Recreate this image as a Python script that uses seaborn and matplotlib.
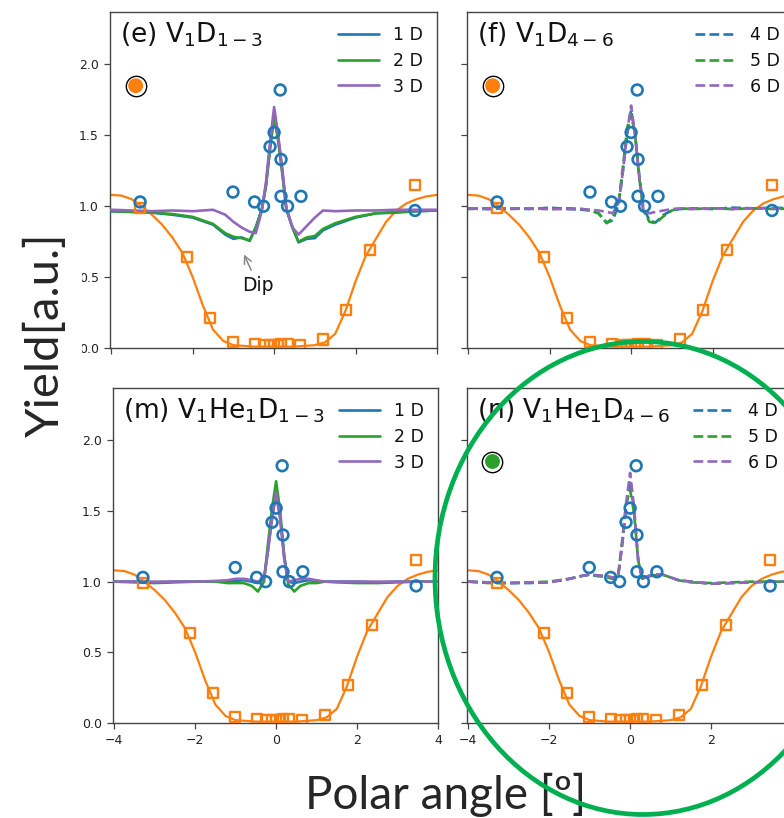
import numpy as np
import pandas as pd
import seaborn as sns
import matplotlib
matplotlib.use("Agg")
import matplotlib.pyplot as plt
from matplotlib.patches import Ellipse, Rectangle

# ---------------- data ----------------
exp_circ_x = [-3.29, -1.01, -0.48, -0.26, -0.10, 0.00, 0.15, 0.17, 0.17, 0.33, 0.66, 3.46]
exp_circ_y = [1.03, 1.10, 1.03, 1.00, 1.42, 1.52, 1.82, 1.33, 1.07, 1.00, 1.07, 0.97]

exp_sq_x = [-3.29, -2.13, -1.57, -1.01, -0.48, -0.26, -0.10, 0.00, 0.10, 0.17, 0.33, 0.64, 1.20, 1.77, 2.36, 3.46]
exp_sq_y = [0.99, 0.64, 0.21, 0.04, 0.025, 0.02, 0.02, 0.02, 0.02, 0.025, 0.025, 0.02, 0.06, 0.27, 0.69, 1.15]

fit_x = [-4.0, -3.75, -3.5, -3.25, -3.0, -2.75, -2.5, -2.25, -2.0, -1.75, -1.5, -1.25, -1.0, -0.5,
         0.0, 0.5, 1.0, 1.25, 1.5, 1.75, 2.0, 2.25, 2.5, 2.75, 3.0, 3.25, 3.5, 3.75, 4.0]
fit_y = [1.08, 1.075, 1.05, 1.0, 0.94, 0.87, 0.78, 0.67, 0.50, 0.30, 0.13, 0.05, 0.02, 0.01,
         0.01, 0.01, 0.02, 0.04, 0.10, 0.26, 0.47, 0.65, 0.77, 0.89, 0.97, 1.02, 1.05, 1.07, 1.08]

sim_x = [-4.0, -3.5, -3.0, -2.5, -2.0, -1.5, -1.2, -1.0, -0.8, -0.6, -0.45, -0.3, -0.2, -0.1, 0.0,
         0.1, 0.2, 0.3, 0.45, 0.6, 0.8, 1.0, 1.2, 1.5, 2.0, 2.5, 3.0, 3.5, 4.0]

e_1D = [0.965, 0.96, 0.955, 0.94, 0.92, 0.87, 0.80, 0.77, 0.78, 0.755, 0.85, 0.98, 1.15, 1.42, 1.66,
        1.48, 1.25, 0.98, 0.85, 0.745, 0.77, 0.775, 0.83, 0.87, 0.92, 0.95, 0.955, 0.965, 0.97]
e_2D = [0.965, 0.96, 0.955, 0.945, 0.925, 0.875, 0.81, 0.785, 0.775, 0.76, 0.85, 0.98, 1.14, 1.40, 1.63,
        1.46, 1.23, 0.98, 0.85, 0.75, 0.78, 0.79, 0.84, 0.88, 0.925, 0.95, 0.96, 0.965, 0.97]
e_3D = [0.975, 0.97, 0.965, 0.97, 0.965, 0.975, 0.94, 0.89, 0.85, 0.82, 0.81, 0.97, 1.17, 1.45, 1.70,
        1.50, 1.27, 0.99, 0.85, 0.80, 0.86, 0.92, 0.97, 0.965, 0.97, 0.97, 0.975, 0.975, 0.975]

f_4D = [0.985, 0.98, 0.985, 0.98, 0.99, 0.98, 0.975, 0.97, 0.95, 0.885, 0.90, 1.02, 1.25, 1.50, 1.68,
        1.50, 1.22, 0.99, 0.90, 0.885, 0.94, 0.97, 0.98, 0.985, 0.98, 0.99, 0.985, 0.99, 0.985]
f_5D = [0.98, 0.985, 0.98, 0.985, 0.98, 0.985, 0.98, 0.97, 0.95, 0.88, 0.92, 1.05, 1.28, 1.55, 1.65,
        1.50, 1.20, 0.97, 0.89, 0.88, 0.93, 0.97, 0.985, 0.98, 0.985, 0.98, 0.985, 0.98, 0.985]
f_6D = [0.985, 0.98, 0.985, 0.985, 0.98, 0.98, 0.98, 0.975, 0.97, 0.96, 0.95, 1.03, 1.25, 1.52, 1.71,
        1.50, 1.20, 0.97, 0.95, 0.96, 0.97, 0.98, 0.985, 0.98, 0.985, 0.98, 0.985, 0.985, 0.985]

m_1D = [1.0, 1.0, 0.995, 1.0, 1.0, 1.0, 1.0, 1.005, 1.01, 1.0, 0.99, 1.02, 1.22, 1.45, 1.62,
        1.45, 1.18, 1.0, 0.99, 1.0, 1.01, 1.005, 1.0, 1.0, 1.0, 0.995, 1.0, 1.0, 1.0]
m_2D = [1.0, 0.995, 0.99, 0.995, 1.0, 1.0, 0.99, 0.99, 0.99, 0.97, 0.93, 1.0, 1.27, 1.52, 1.71,
        1.50, 1.18, 0.98, 0.93, 0.97, 0.99, 0.99, 1.0, 0.995, 0.99, 0.99, 0.995, 1.0, 1.0]
m_3D = [1.0, 1.0, 1.0, 1.0, 1.0, 1.005, 1.01, 1.02, 1.02, 1.01, 1.0, 1.02, 1.22, 1.45, 1.63,
        1.45, 1.16, 1.0, 1.01, 1.02, 1.02, 1.01, 1.0, 1.0, 1.0, 1.0, 1.0, 1.0, 1.0]

n_4D = [1.0, 0.995, 0.99, 0.99, 0.995, 1.02, 1.04, 1.05, 1.04, 1.04, 1.03, 1.03, 1.25, 1.52, 1.72,
        1.50, 1.15, 1.02, 1.04, 1.05, 1.05, 1.03, 1.01, 1.0, 0.985, 0.99, 0.995, 1.0, 1.0]
n_5D = [1.0, 0.99, 0.99, 0.995, 1.0, 1.02, 1.04, 1.05, 1.04, 1.035, 1.02, 1.03, 1.28, 1.55, 1.65,
        1.48, 1.15, 1.02, 1.035, 1.045, 1.05, 1.03, 1.01, 0.995, 0.99, 0.995, 1.0, 1.0, 1.0]
n_6D = [1.0, 0.995, 0.99, 0.995, 0.995, 1.02, 1.04, 1.05, 1.045, 1.04, 1.03, 1.03, 1.25, 1.55, 1.77,
        1.52, 1.15, 1.02, 1.04, 1.05, 1.05, 1.03, 1.01, 1.0, 0.985, 0.99, 0.995, 1.0, 1.0]

panel_titles = [r"(e) V$_1$D$_{1-3}$", r"(f) V$_1$D$_{4-6}$",
                r"(m) V$_1$He$_1$D$_{1-3}$", r"(n) V$_1$He$_1$D$_{4-6}$"]
panel_series = [[e_1D, e_2D, e_3D], [f_4D, f_5D, f_6D], [m_1D, m_2D, m_3D], [n_4D, n_5D, n_6D]]
panel_labels = [["1 D", "2 D", "3 D"], ["4 D", "5 D", "6 D"], ["1 D", "2 D", "3 D"], ["4 D", "5 D", "6 D"]]
panel_styles = ["-", "--", "-", "--"]
panel_dot = ["#ff7f0e", "#ff7f0e", None, "#2ca02c"]
dot_x, dot_y = -3.4, 1.85

x_ticks = [-4, -2, 0, 2, 4]
x_ticklabels = ["\u22124", "\u22122", "0", "2", "4"]
y_ticks = [0.0, 0.5, 1.0, 1.5, 2.0]
y_ticklabels = ["0.0", "0.5", "1.0", "1.5", "2.0"]

# ---------------- style ----------------
sns.set_style("ticks")
plt.rcParams["font.family"] = ["DejaVu Sans"]
plt.rcParams["axes.edgecolor"] = "#444444"
plt.rcParams["xtick.color"] = "#444444"
plt.rcParams["ytick.color"] = "#444444"
plt.rcParams["xtick.labelcolor"] = "#222222"
plt.rcParams["ytick.labelcolor"] = "#222222"

C_BLUE, C_ORANGE, C_GREEN, C_PURPLE = "#1f77b4", "#ff7f0e", "#2ca02c", "#9467bd"
line_colors = [C_BLUE, C_GREEN, C_PURPLE]

W, H = 784, 818
fig = plt.figure(figsize=(W / 100, H / 100), dpi=100)

rects_px = [(110, 12, 327, 336), (467, 12, 327, 336), (113, 388, 325, 335), (467, 388, 325, 335)]
axes = []
for (l, t, w, h) in rects_px:
    axes.append(fig.add_axes([l / W, (H - t - h) / H, w / W, h / H]))

for i, ax in enumerate(axes):
    sns.lineplot(x=fit_x, y=fit_y, ax=ax, color=C_ORANGE, lw=1.6, sort=False, estimator=None, zorder=2)
    for ser, lab, col in zip(panel_series[i], panel_labels[i], line_colors):
        sns.lineplot(x=sim_x, y=ser, ax=ax, color=col, lw=1.9, linestyle=panel_styles[i],
                     label=lab, sort=False, estimator=None, zorder=3)
    sns.scatterplot(x=exp_sq_x, y=exp_sq_y, ax=ax, marker="s", s=52, color=C_ORANGE,
                    facecolor="none", edgecolor=C_ORANGE, linewidth=1.7, zorder=4)
    sns.scatterplot(x=exp_circ_x, y=exp_circ_y, ax=ax, marker="o", s=60, color=C_BLUE,
                    facecolor="none", edgecolor=C_BLUE, linewidth=1.9, zorder=5)
    if panel_dot[i] is not None:
        sns.scatterplot(x=[dot_x], y=[dot_y], ax=ax, marker="o", s=215, color="white",
                        facecolor="white", edgecolor="black", linewidth=1.0, zorder=6)
        sns.scatterplot(x=[dot_x], y=[dot_y], ax=ax, marker="o", s=115, color=panel_dot[i],
                        facecolor=panel_dot[i], edgecolor="none", linewidth=0, zorder=7)

    ax.set_xlim(-4.03, 4.0)
    ax.set_ylim(0, 2.37)
    ax.set_xticks(x_ticks)
    ax.set_yticks(y_ticks)
    ax.tick_params(labelsize=9, length=4.5, width=0.9)
    ax.set_xlabel("")
    ax.set_ylabel("")
    if i < 2:
        ax.set_xticklabels([])
    elif i == 2:
        ax.set_xticklabels(x_ticklabels)
    else:
        ax.set_xticklabels(x_ticklabels[:-1] + [""])
    if i % 2 == 1:
        ax.set_yticklabels([])
    else:
        ax.set_yticklabels(y_ticklabels)
    for sp in ax.spines.values():
        sp.set_visible(True)
        sp.set_linewidth(1.0)

    ax.text(0.03, 0.975, panel_titles[i], transform=ax.transAxes, ha="left", va="top",
            fontsize=19, color="#111111")
    leg = ax.legend(loc="upper right", frameon=False, fontsize=12.5, handlelength=2.4,
                    handletextpad=0.8, labelspacing=0.45, borderaxespad=0.4)
    for t in leg.get_texts():
        t.set_color("#111111")

# Dip annotation
axes[0].annotate("Dip", xy=(-0.74, 0.66), xytext=(-0.39, 0.44), ha="center", va="center",
                 fontsize=13.5, color="#111111",
                 arrowprops=dict(arrowstyle="->", color="#888888", lw=1.1, shrinkA=2, shrinkB=0))

# white box of the y-label text box that hides part of the top-left tick labels
fig.add_artist(Rectangle((0, 1 - 362 / H), 82 / W, (362 - 228) / H, transform=fig.transFigure,
                         facecolor="white", edgecolor="none", zorder=5))

# big axis labels
fig.text(446 / W, 1 - 795 / H, "Polar angle [º]", ha="center", va="center",
         fontsize=33, family=["Lato", "DejaVu Sans"], zorder=10)
fig.text(45 / W, 1 - 335 / H, "Yield[a.u.]", ha="center", va="center", rotation=90,
         fontsize=34, family=["Lato", "DejaVu Sans"], zorder=10)

# green highlight ellipse
ell = Ellipse((643 / W, 1 - 578 / H), 416 / W, 473 / H, transform=fig.transFigure,
              fill=False, edgecolor="#00B050", linewidth=3.4, zorder=20)
fig.add_artist(ell)

fig.savefig("out.png", dpi=100)
